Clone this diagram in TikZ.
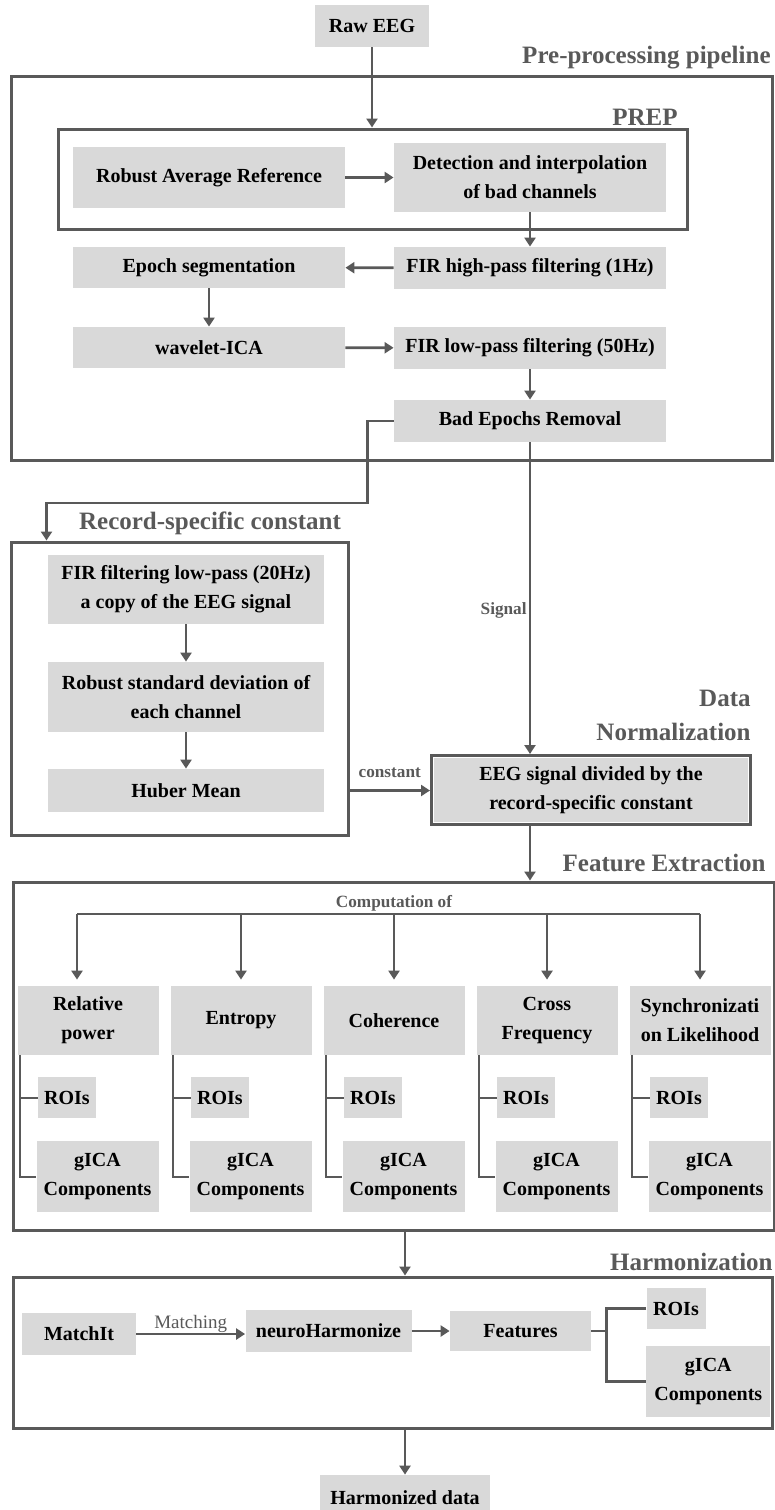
\documentclass[tikz,border=0pt]{standalone}
\usepackage{fontspec}
\setmainfont{Liberation Serif}
\usepackage{tikz}
\usetikzlibrary{positioning,arrows.meta}
\definecolor{boxgray}{HTML}{D9D9D9}
\definecolor{linegray}{HTML}{595959}

\begin{document}
\begin{tikzpicture}[
    x=0.5pt, y=-0.5pt,
    box/.style 2 args={fill=boxgray, inner sep=0pt, align=center, minimum width=#1, minimum height=#2,
        font=\fontsize{10}{14.5}\selectfont\bfseries},
    frame/.style 2 args={draw=linegray, line width=1.5pt, inner sep=0pt, minimum width=#1, minimum height=#2},
    arrow/.style={draw=linegray, line width=1.4pt, -{Triangle[length=4.5pt,width=5.5pt]}},
    bracket/.style={draw=linegray, line width=1pt},
    title/.style={text=linegray, inner sep=0pt, align=right, font=\fontsize{12.5}{17}\selectfont\bfseries},
    lab/.style={text=linegray, inner sep=1pt, font=\fontsize{8.6}{10}\selectfont\bfseries}
]
\useasboundingbox (0,0) rectangle (775,1510);

% pre-processing pipeline
\node[box={57pt}{21pt}] (raw) at (372,26) {Raw EEG};
\node[frame={380.5pt}{192pt}] (pre) at (391.5,268) {};
\node[title, anchor=east] (pretitle) at (771,58) {Pre-processing pipeline};
\node[frame={314.5pt}{50pt}] (prep) at (372.5,179) {};
\node[title] (preptitle) at (645,117) {PREP};

\node[box={136pt}{30.5pt}] (rar) at (209,177.5) {Robust Average Reference};
\node[box={136pt}{34.5pt}] (det) at (530,177.5) {Detection and interpolation\\of bad channels};
\node[box={136pt}{21pt}] (firhp) at (530,268) {FIR high-pass filtering (1Hz)};
\node[box={136pt}{20.5pt}] (epoch) at (209,267.5) {Epoch segmentation};
\node[box={136pt}{20.5pt}] (wica) at (209,347.5) {wavelet-ICA};
\node[box={136pt}{21pt}] (firlp) at (530,348) {FIR low-pass filtering (50Hz)};
\node[box={136pt}{21pt}] (bad) at (530,421) {Bad Epochs Removal};

\draw[arrow] (raw) -- (raw |- prep.north);
\draw[arrow] (rar) -- (det);
\draw[arrow] (det) -- (firhp);
\draw[arrow] (firhp) -- (epoch);
\draw[arrow] (epoch) -- (wica);
\draw[arrow] (wica) -- (firlp);
\draw[arrow] (firlp) -- (bad);

% record-specific constant
\node[frame={168.5pt}{146.5pt}] (rec) at (179.5,688.5) {};
\node[title] (rectitle) at (210,523) {Record-specific constant};
\node[box={138pt}{34.5pt}] (firlow) at (186,589.5) {FIR filtering low-pass (20Hz)\\a copy of the EEG signal};
\node[box={138pt}{35pt}] (rstd) at (186,697) {Robust standard deviation of\\each channel};
\node[box={138pt}{21.5pt}] (huber) at (186,790.5) {Huber Mean};

\draw[arrow] (bad.west) -| ++(-26,82) -| ([xshift=18.5pt]rec.north west);
\draw[arrow] (firlow) -- (rstd);
\draw[arrow] (rstd) -- (huber);

% data normalization
\node[title, anchor=east] (normtitle) at (751,715) {Data\\Normalization};
\node[box={157pt}{32pt}, outer sep=2pt] (norm) at (591,790) {EEG signal divided by the\\record-specific constant};
\draw[draw=linegray, line width=1.5pt] ([xshift=0.75pt,yshift=-0.75pt]norm.north west) rectangle ([xshift=-0.75pt,yshift=0.75pt]norm.south east);

\draw[arrow] (bad.south) -- (bad.south |- norm.north) node[pos=0.54, left, lab] {Signal};
\draw[arrow] (rec.east |- huber) -- (norm.west |- huber) node[midway, above=4.5pt, lab] {constant};

% feature extraction
\node[frame={380.5pt}{174pt}] (feat) at (393.5,1056) {};
\node[title, anchor=east] (feattitle) at (766,863) {Feature Extraction};
\draw[arrow] (bad.south |- norm.south) -- (bad.south |- feat.north);

\coordinate (comp) at (394,914);
\node[lab, above] (comptxt) at (comp) {Computation of};

\foreach \i/\txt in {1/{Relative\\power}, 2/Entropy, 3/Coherence, 4/{Cross\\Frequency}, 5/{Synchronizati\\on Likelihood}} {
  \pgfmathsetmacro{\cx}{88+153*(\i-1)}
  \node[box={70.5pt}{34.5pt}] (cat\i) at (\cx,1020.5) {\txt};
  \node[box={29pt}{20.5pt}] (roi\i) at (\cx-21,1097.5) {ROIs};
  \node[box={61pt}{35.5pt}] (gica\i) at (\cx+9.5,1176.5) {gICA\\Components};
  \draw[bracket] ([xshift=1.25pt]cat\i.south west) |- (roi\i.west);
  \draw[bracket] ([xshift=1.25pt]cat\i.south west) |- (gica\i.west);
}
\foreach \i in {2,...,5}
  \draw[arrow, shorten >=3pt] (cat\i.north |- comp) -- (cat\i.north);
% the first branch sits left of its box centre
\draw[arrow, shorten >=3pt] ([xshift=-5.5pt]cat1.north |- comp) -- ([xshift=-5.5pt]cat1.north);
\draw[bracket, line width=1.4pt] ([xshift=-5.5pt]cat1.north |- comp) -- (cat5.north |- comp);

% harmonization
\node[frame={379.5pt}{75.5pt}] (harm) at (392.5,1352.5) {};
\node[title, anchor=east] (harmtitle) at (773,1262) {Harmonization};
\node[box={57pt}{21pt}] (match) at (79,1334) {MatchIt};
\node[box={83pt}{21pt}] (neuro) at (328.5,1331) {neuroHarmonize};
\node[box={70.5pt}{20pt}] (hfeat) at (520.5,1331) {Features};
\node[box={29.5pt}{20.5pt}] (hroi) at (676,1308.5) {ROIs};
\node[box={62pt}{35.5pt}] (hgica) at (708.3,1381.5) {gICA\\Components};
\node[box={85pt}{23pt}] (hdata) at (405,1498) {Harmonized data};

\draw[arrow] (match) -- (match -| neuro.west)
    node[midway, above, inner sep=0pt, text=linegray, font=\fontsize{9.5}{11}\selectfont] {Matching};
\draw[arrow] (neuro) -- (hfeat);
\draw[bracket, line width=1.4pt] (hfeat.east) -- ++(15,0) coordinate (hb);
\draw[bracket, line width=1.4pt] (hroi.west) -| (hb) |- (hgica.west);
\draw[arrow] (hdata.north |- feat.south) -- (hdata.north |- harm.north);
\draw[arrow] (hdata.north |- harm.south) -- (hdata.north);

\end{tikzpicture}
\end{document}
